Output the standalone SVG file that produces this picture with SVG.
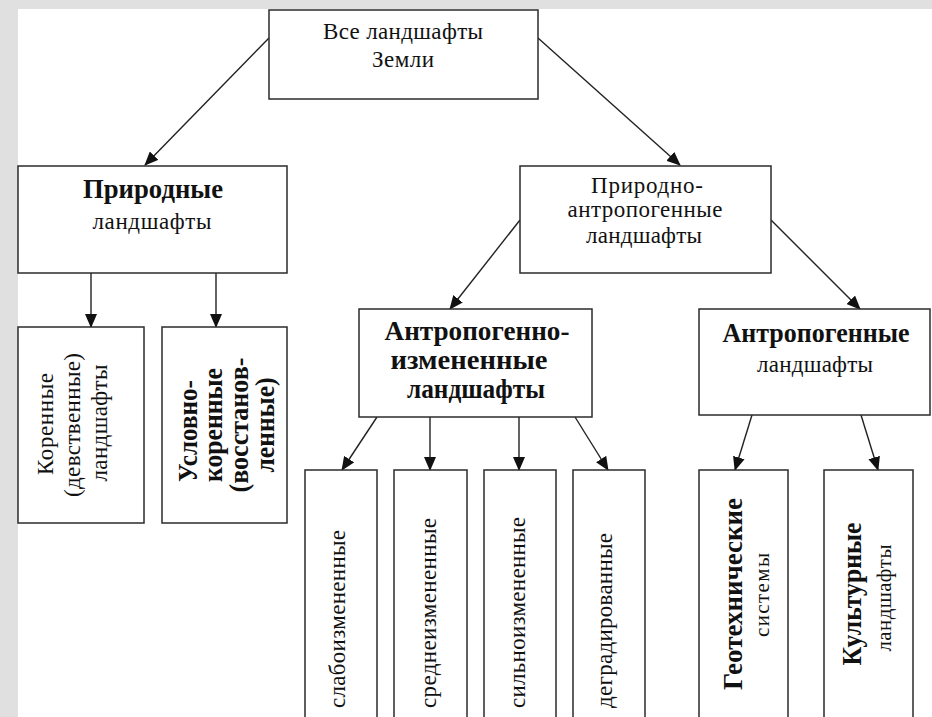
<svg xmlns="http://www.w3.org/2000/svg" width="932" height="717" viewBox="0 0 932 717">
<style>
.box{fill:#fff;stroke:#2b2b2b;stroke-width:1.5}
.t{font-family:"Liberation Serif","Times New Roman",serif;fill:#111}
.r{font-size:23px}
.b{font-size:28px;font-weight:bold}
.c{stroke:#222;stroke-width:1.4;fill:none;marker-end:url(#ah)}
</style>
<defs>
<marker id="ah" markerUnits="userSpaceOnUse" markerWidth="14" markerHeight="12" viewBox="0 0 14 12" refX="13" refY="6" orient="auto">
<path d="M0,0 L14,6 L0,12 Z" fill="#111"/>
</marker>
</defs>
<rect x="0" y="0" width="932" height="717" fill="#e0e0e0"/>
<rect x="18" y="9" width="914" height="708" fill="#fff"/>

<g id="connectors">
<line class="c" x1="269" y1="38" x2="145" y2="165"/>
<line class="c" x1="538" y1="38" x2="680" y2="165"/>
<line class="c" x1="91" y1="273" x2="91" y2="327"/>
<line class="c" x1="216" y1="273" x2="216" y2="327"/>
<line class="c" x1="520" y1="220" x2="450" y2="309"/>
<line class="c" x1="771" y1="220" x2="860" y2="309"/>
<line class="c" x1="377" y1="417" x2="342" y2="470"/>
<line class="c" x1="430" y1="417" x2="430" y2="470"/>
<line class="c" x1="519" y1="417" x2="519" y2="470"/>
<line class="c" x1="575" y1="417" x2="608" y2="470"/>
<line class="c" x1="752" y1="415" x2="735" y2="470"/>
<line class="c" x1="861" y1="415" x2="878" y2="470"/>
</g>

<g id="all">
<rect class="box" x="269" y="10" width="269" height="89"/>
<text class="t r" x="403" y="39" text-anchor="middle" textLength="160">Все ландшафты</text>
<text class="t r" x="403" y="67" text-anchor="middle" textLength="62">Земли</text>
</g>

<g id="natural">
<rect class="box" x="18" y="166" width="269" height="107"/>
<text class="t b" x="153" y="198" text-anchor="middle" textLength="140" lengthAdjust="spacingAndGlyphs">Природные</text>
<text class="t r" x="152" y="229" text-anchor="middle" textLength="119">ландшафты</text>
</g>

<g id="nat-anthr">
<rect class="box" x="520" y="166" width="251" height="107"/>
<text class="t r" x="647" y="193" text-anchor="middle" textLength="112">Природно-</text>
<text class="t r" x="645" y="217" text-anchor="middle" textLength="155">антропогенные</text>
<text class="t r" x="644" y="243" text-anchor="middle" textLength="116">ландшафты</text>
</g>

<g id="root">
<rect class="box" x="18" y="327" width="126" height="196"/>
<text class="t r" transform="translate(53,424) rotate(-90)" text-anchor="middle" textLength="102">Коренные</text>
<text class="t r" transform="translate(80,425) rotate(-90)" text-anchor="middle" textLength="144">(девственные)</text>
<text class="t r" transform="translate(107,423) rotate(-90)" text-anchor="middle" textLength="117">ландшафты</text>
</g>

<g id="cond-root">
<rect class="box" x="162" y="327" width="125" height="196"/>
<text class="t b" transform="translate(197,431) rotate(-90)" text-anchor="middle" textLength="102" lengthAdjust="spacingAndGlyphs">Условно-</text>
<text class="t b" transform="translate(222,425) rotate(-90)" text-anchor="middle" textLength="114" lengthAdjust="spacingAndGlyphs">коренные</text>
<text class="t b" transform="translate(248,425) rotate(-90)" text-anchor="middle" textLength="135" lengthAdjust="spacingAndGlyphs">(восстанов-</text>
<text class="t b" transform="translate(274,425) rotate(-90)" text-anchor="middle" textLength="95" lengthAdjust="spacingAndGlyphs">ленные)</text>
</g>

<g id="anthr-mod">
<rect class="box" x="359" y="309" width="233" height="108"/>
<text class="t b" x="477" y="340" text-anchor="middle" textLength="185" lengthAdjust="spacingAndGlyphs">Антропогенно-</text>
<text class="t b" x="469" y="369" text-anchor="middle" textLength="157" lengthAdjust="spacingAndGlyphs">измененные</text>
<text class="t b" x="476" y="398" text-anchor="middle" textLength="138" lengthAdjust="spacingAndGlyphs">ландшафты</text>
</g>

<g id="anthr">
<rect class="box" x="699" y="309" width="231" height="106"/>
<text class="t b" x="816" y="342" text-anchor="middle" textLength="187" lengthAdjust="spacingAndGlyphs">Антропогенные</text>
<text class="t r" x="815" y="372" text-anchor="middle" textLength="116">ландшафты</text>
</g>

<g id="weak">
<rect class="box" x="305" y="470" width="72" height="252"/>
<text class="t r" transform="translate(345,708) rotate(-90)" textLength="178">слабоизмененные</text>
</g>

<g id="medium">
<rect class="box" x="394" y="470" width="73" height="252"/>
<text class="t r" transform="translate(436,708) rotate(-90)" textLength="190">среднеизмененные</text>
</g>

<g id="strong">
<rect class="box" x="484" y="470" width="72" height="252"/>
<text class="t r" transform="translate(525,708) rotate(-90)" textLength="191">сильноизмененные</text>
</g>

<g id="degraded">
<rect class="box" x="573" y="470" width="72" height="252"/>
<text class="t r" transform="translate(612,708) rotate(-90)" textLength="175">деградированные</text>
</g>

<g id="geotech">
<rect class="box" x="699" y="470" width="89" height="252"/>
<text class="t b" transform="translate(742,594) rotate(-90)" text-anchor="middle" textLength="192" lengthAdjust="spacingAndGlyphs">Геотехнические</text>
<text class="t r" style="font-size:21px" transform="translate(769,595) rotate(-90)" text-anchor="middle" textLength="84">системы</text>
</g>

<g id="cultural">
<rect class="box" x="824" y="470" width="89" height="252"/>
<text class="t b" transform="translate(861,594) rotate(-90)" text-anchor="middle" textLength="143" lengthAdjust="spacingAndGlyphs">Культурные</text>
<text class="t r" style="font-size:21px" transform="translate(891,598) rotate(-90)" text-anchor="middle" textLength="107">ландшафты</text>
</g>
</svg>
